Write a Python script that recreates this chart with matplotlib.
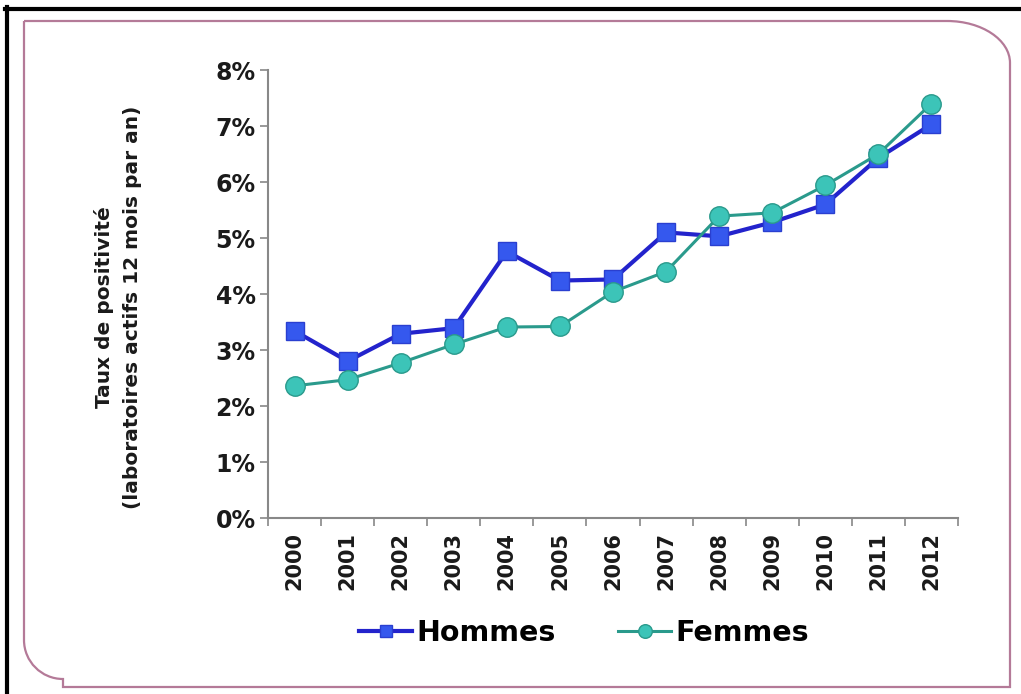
import numpy as np
import matplotlib.pyplot as plt
from matplotlib.path import Path
from matplotlib.patches import PathPatch
from matplotlib.lines import Line2D

W, H = 1021, 694

annees = ['2000', '2001', '2002', '2003', '2004', '2005', '2006',
          '2007', '2008', '2009', '2010', '2011', '2012']
hommes = [3.34, 2.80, 3.29, 3.39, 4.76, 4.24, 4.26, 5.10, 5.03, 5.28, 5.60, 6.43, 7.03]
femmes = [2.36, 2.47, 2.77, 3.10, 3.41, 3.42, 4.04, 4.40, 5.39, 5.45, 5.94, 6.50, 7.40]
yticks = [0, 1, 2, 3, 4, 5, 6, 7, 8]

plt.rcParams['font.family'] = 'DejaVu Sans'
plt.rcParams['font.weight'] = 'bold'

fig = plt.figure(figsize=(W / 100, H / 100), dpi=100)
fig.patch.set_facecolor('white')

def px(x, y):
    return (x / W, 1 - y / H)

# black frame (top and left)
fig.add_artist(Line2D([px(5, 9)[0], 1], [px(5, 9)[1]] * 2, color='black', lw=3, transform=fig.transFigure))
fig.add_artist(Line2D([px(7, 0)[0]] * 2, [px(0, 7)[1], 0], color='black', lw=3, transform=fig.transFigure))

# pink rounded border
k = 0.5523
verts = [(24, 21), (947, 21), (947 + 63 * k, 21), (1010, 63 - 42 * k), (1010, 63),
         (1010, 687), (63, 687), (63, 679), (63 - 39 * k, 679), (24, 640 + 39 * k), (24, 640),
         (24, 21)]
codes = [Path.MOVETO, Path.LINETO, Path.CURVE4, Path.CURVE4, Path.CURVE4,
         Path.LINETO, Path.LINETO, Path.LINETO, Path.CURVE4, Path.CURVE4, Path.CURVE4,
         Path.LINETO]
verts = [px(x, y) for x, y in verts]
fig.add_artist(PathPatch(Path(verts, codes), fill=False, edgecolor='#b47a98', lw=1.6,
                         transform=fig.transFigure))

ax = fig.add_axes([268 / W, 1 - 518 / H, 690 / W, 448 / H])
x = np.arange(len(annees))

ax.plot(x, hommes, color='#2323cc', lw=3, marker='s', markersize=13,
        markerfacecolor='#3558ee', markeredgecolor='#2a3fd0', label='Hommes', zorder=3)
ax.plot(x, femmes, color='#2a9a8c', lw=2.2, marker='o', markersize=14,
        markerfacecolor='#3cc4b8', markeredgecolor='#2a9a8c', label='Femmes', zorder=4)

ax.set_xlim(-0.5, len(annees) - 0.5)
ax.set_ylim(0, 8)
ax.set_xticks(np.arange(-0.5, len(annees), 1))
ax.set_xticklabels([])
ax.set_xticks(x, minor=True)
ax.set_xticklabels(annees, minor=True, rotation=90, fontsize=15, fontweight='bold', color='#1a1a1a')
ax.tick_params(axis='x', which='major', length=6, color='#888888', width=1.2)
ax.tick_params(axis='x', which='minor', length=0, pad=10)
ax.set_yticks(yticks)
ax.set_yticklabels([f'{v}%' for v in yticks], fontsize=17, fontweight='bold', color='#1a1a1a')
ax.tick_params(axis='y', length=6, color='#888888', width=1.2, pad=3)

for s in ['top', 'right']:
    ax.spines[s].set_visible(False)
for s in ['left', 'bottom']:
    ax.spines[s].set_color('#888888')
    ax.spines[s].set_linewidth(1.5)

ax.set_ylabel('Taux de positivité\n(laboratoires actifs 12 mois par an)',
              fontsize=14.5, fontweight='bold', color='#1a1a1a', linespacing=1.6)
ax.yaxis.set_label_coords(-0.182, 0.47)

ax.legend(loc='center', bbox_to_anchor=(584 / W, 1 - 633 / H), bbox_transform=fig.transFigure,
          ncol=2, frameon=False, fontsize=20.5, handlelength=1.85, handletextpad=0.15,
          columnspacing=2.2, markerscale=0.7)

fig.savefig('out.png', dpi=100)
